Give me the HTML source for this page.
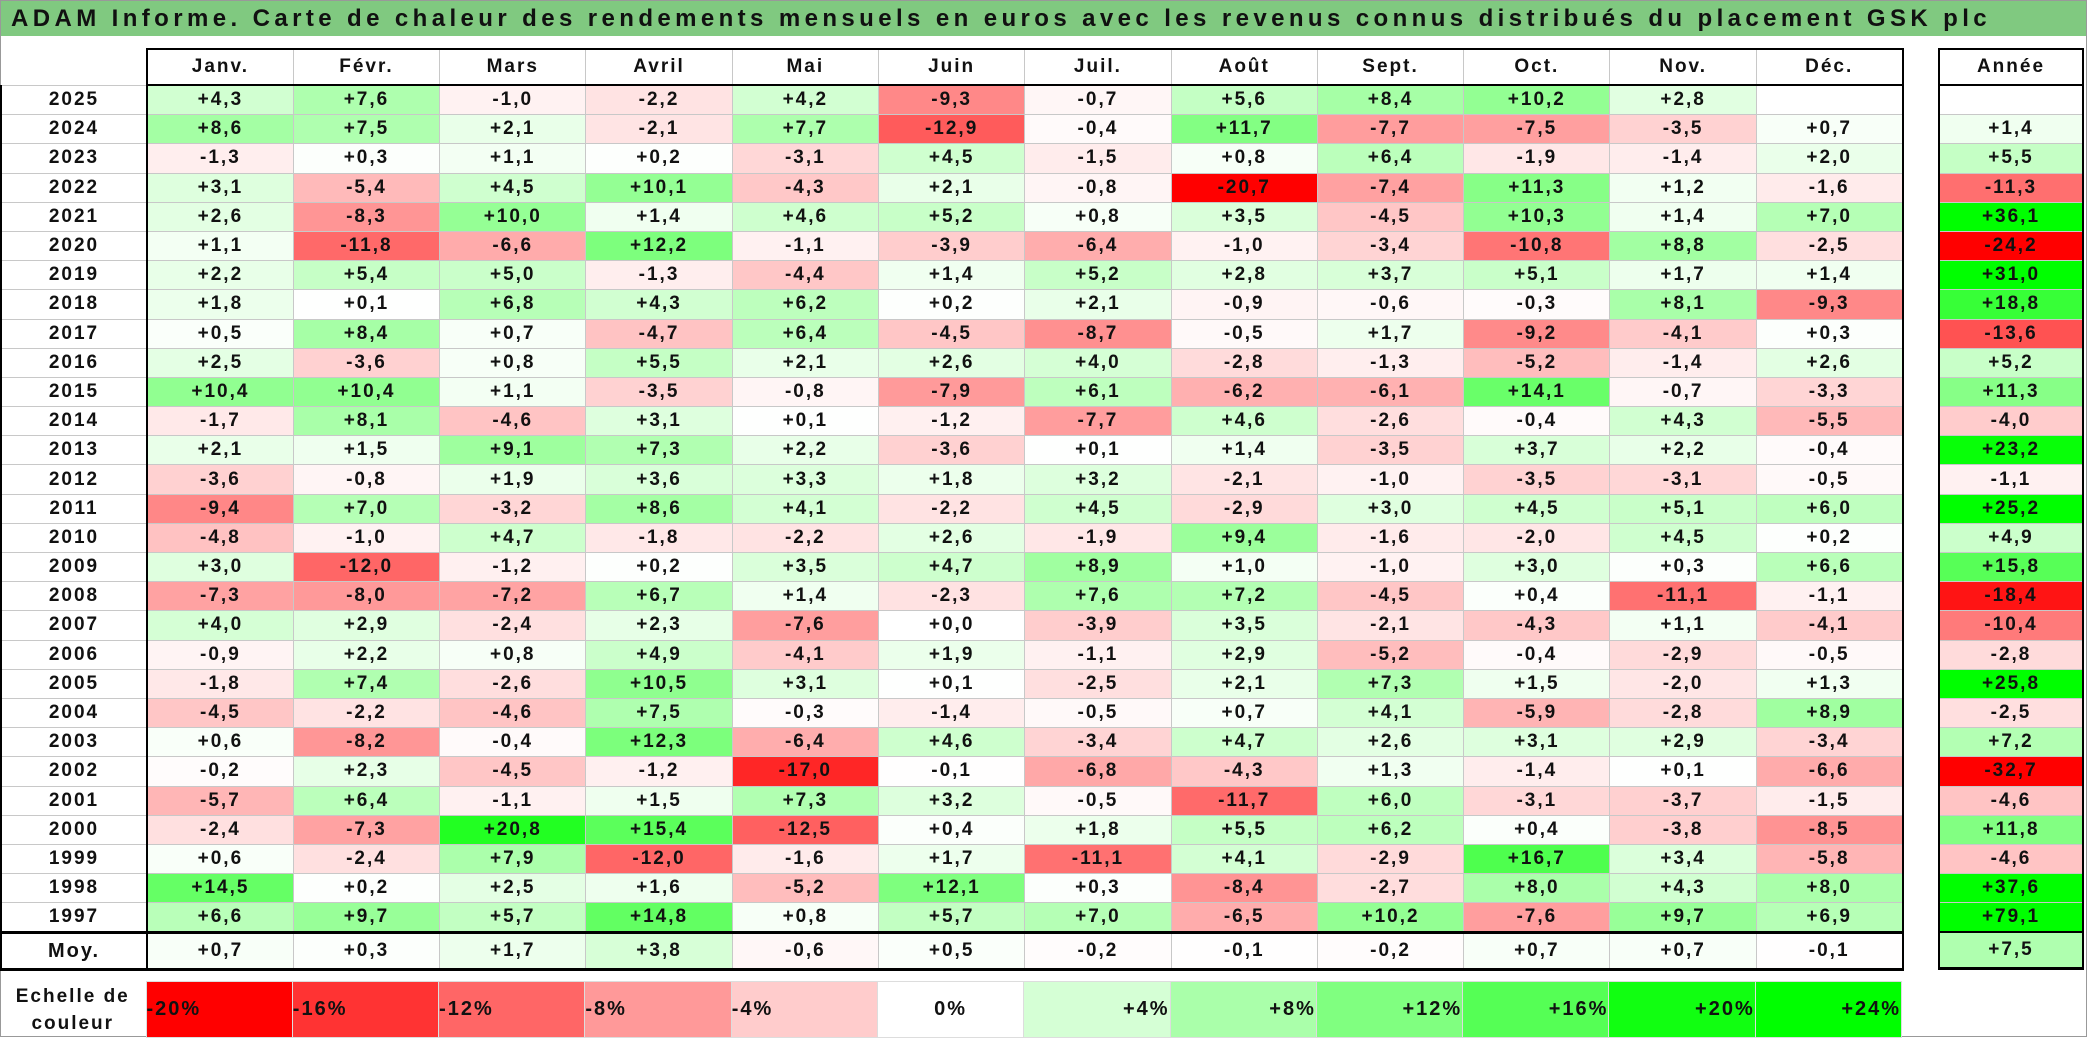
<!DOCTYPE html>
<html><head><meta charset="utf-8"><style>
body{margin:0;width:2087px;height:1037px;background:#fff;position:relative;overflow:hidden;font-family:"Liberation Sans",Arial,sans-serif;font-weight:bold;color:#111}
#frame{position:absolute;left:0;top:0;width:2085px;height:1035px;border:1px solid #999}
#title{position:absolute;left:1px;top:1px;width:2085px;height:35px;background:#80c980;font-size:24px;letter-spacing:4.4px;line-height:36px;padding-left:10px;box-sizing:border-box;white-space:nowrap;overflow:hidden}
table{border-collapse:collapse;table-layout:fixed;position:absolute;font-size:19px;letter-spacing:2px}
td{text-align:center;padding:0;border:1px solid #c8c8c8;overflow:hidden;white-space:nowrap}
#main{left:0;top:48px;width:1902px}
#main tr.r td{height:28.2px}
#main td.y{border-left:2px solid #000;border-right:2px solid #000}
#main tr.h td{height:34px;border-top:2px solid #000;border-bottom:2px solid #000}
#main tr.h td.blank{border:none;border-right:2px solid #000}
#main tr.h td:last-child,#main tr.r td:last-child,#main tr.m td:last-child{border-right:2px solid #000}
#main tr.m td{height:34px;border-top:3px solid #000;border-bottom:3px solid #000}
#main tr.m td.y{font-size:20px}
#yr{left:1938px;top:48px;width:146px}
#yr td{border-left:2px solid #000;border-right:2px solid #000}
#yr tr.h td{height:34px;border-top:2px solid #000;border-bottom:2px solid #000}
#yr tr.r td{height:28.2px}
#yr tr.m td{height:34px;border-top:2px solid #000;border-bottom:3px solid #000}
#leg{left:0;top:981px;width:1902px;font-size:20px}
#leg td{height:55px;border:1px solid #ddd}
#leg td.lab{border:none;font-size:19px;line-height:27px}
</style></head><body>
<div id="frame"></div>
<div id="title">ADAM Informe. Carte de chaleur des rendements mensuels en euros avec les revenus connus distribués du placement GSK plc</div>
<table id="main">
<colgroup><col style="width:146px"><col span="12" style="width:146.3px"></colgroup>
<tr class="h"><td class="blank"></td><td>Janv.</td><td>Févr.</td><td>Mars</td><td>Avril</td><td>Mai</td><td>Juin</td><td>Juil.</td><td>Août</td><td>Sept.</td><td>Oct.</td><td>Nov.</td><td>Déc.</td></tr>
<tr class="r"><td class="y">2025</td><td>+4,3</td><td>+7,6</td><td>-1,0</td><td>-2,2</td><td>+4,2</td><td>-9,3</td><td>-0,7</td><td>+5,6</td><td>+8,4</td><td>+10,2</td><td>+2,8</td><td></td></tr>
<tr class="r"><td class="y">2024</td><td>+8,6</td><td>+7,5</td><td>+2,1</td><td>-2,1</td><td>+7,7</td><td>-12,9</td><td>-0,4</td><td>+11,7</td><td>-7,7</td><td>-7,5</td><td>-3,5</td><td>+0,7</td></tr>
<tr class="r"><td class="y">2023</td><td>-1,3</td><td>+0,3</td><td>+1,1</td><td>+0,2</td><td>-3,1</td><td>+4,5</td><td>-1,5</td><td>+0,8</td><td>+6,4</td><td>-1,9</td><td>-1,4</td><td>+2,0</td></tr>
<tr class="r"><td class="y">2022</td><td>+3,1</td><td>-5,4</td><td>+4,5</td><td>+10,1</td><td>-4,3</td><td>+2,1</td><td>-0,8</td><td>-20,7</td><td>-7,4</td><td>+11,3</td><td>+1,2</td><td>-1,6</td></tr>
<tr class="r"><td class="y">2021</td><td>+2,6</td><td>-8,3</td><td>+10,0</td><td>+1,4</td><td>+4,6</td><td>+5,2</td><td>+0,8</td><td>+3,5</td><td>-4,5</td><td>+10,3</td><td>+1,4</td><td>+7,0</td></tr>
<tr class="r"><td class="y">2020</td><td>+1,1</td><td>-11,8</td><td>-6,6</td><td>+12,2</td><td>-1,1</td><td>-3,9</td><td>-6,4</td><td>-1,0</td><td>-3,4</td><td>-10,8</td><td>+8,8</td><td>-2,5</td></tr>
<tr class="r"><td class="y">2019</td><td>+2,2</td><td>+5,4</td><td>+5,0</td><td>-1,3</td><td>-4,4</td><td>+1,4</td><td>+5,2</td><td>+2,8</td><td>+3,7</td><td>+5,1</td><td>+1,7</td><td>+1,4</td></tr>
<tr class="r"><td class="y">2018</td><td>+1,8</td><td>+0,1</td><td>+6,8</td><td>+4,3</td><td>+6,2</td><td>+0,2</td><td>+2,1</td><td>-0,9</td><td>-0,6</td><td>-0,3</td><td>+8,1</td><td>-9,3</td></tr>
<tr class="r"><td class="y">2017</td><td>+0,5</td><td>+8,4</td><td>+0,7</td><td>-4,7</td><td>+6,4</td><td>-4,5</td><td>-8,7</td><td>-0,5</td><td>+1,7</td><td>-9,2</td><td>-4,1</td><td>+0,3</td></tr>
<tr class="r"><td class="y">2016</td><td>+2,5</td><td>-3,6</td><td>+0,8</td><td>+5,5</td><td>+2,1</td><td>+2,6</td><td>+4,0</td><td>-2,8</td><td>-1,3</td><td>-5,2</td><td>-1,4</td><td>+2,6</td></tr>
<tr class="r"><td class="y">2015</td><td>+10,4</td><td>+10,4</td><td>+1,1</td><td>-3,5</td><td>-0,8</td><td>-7,9</td><td>+6,1</td><td>-6,2</td><td>-6,1</td><td>+14,1</td><td>-0,7</td><td>-3,3</td></tr>
<tr class="r"><td class="y">2014</td><td>-1,7</td><td>+8,1</td><td>-4,6</td><td>+3,1</td><td>+0,1</td><td>-1,2</td><td>-7,7</td><td>+4,6</td><td>-2,6</td><td>-0,4</td><td>+4,3</td><td>-5,5</td></tr>
<tr class="r"><td class="y">2013</td><td>+2,1</td><td>+1,5</td><td>+9,1</td><td>+7,3</td><td>+2,2</td><td>-3,6</td><td>+0,1</td><td>+1,4</td><td>-3,5</td><td>+3,7</td><td>+2,2</td><td>-0,4</td></tr>
<tr class="r"><td class="y">2012</td><td>-3,6</td><td>-0,8</td><td>+1,9</td><td>+3,6</td><td>+3,3</td><td>+1,8</td><td>+3,2</td><td>-2,1</td><td>-1,0</td><td>-3,5</td><td>-3,1</td><td>-0,5</td></tr>
<tr class="r"><td class="y">2011</td><td>-9,4</td><td>+7,0</td><td>-3,2</td><td>+8,6</td><td>+4,1</td><td>-2,2</td><td>+4,5</td><td>-2,9</td><td>+3,0</td><td>+4,5</td><td>+5,1</td><td>+6,0</td></tr>
<tr class="r"><td class="y">2010</td><td>-4,8</td><td>-1,0</td><td>+4,7</td><td>-1,8</td><td>-2,2</td><td>+2,6</td><td>-1,9</td><td>+9,4</td><td>-1,6</td><td>-2,0</td><td>+4,5</td><td>+0,2</td></tr>
<tr class="r"><td class="y">2009</td><td>+3,0</td><td>-12,0</td><td>-1,2</td><td>+0,2</td><td>+3,5</td><td>+4,7</td><td>+8,9</td><td>+1,0</td><td>-1,0</td><td>+3,0</td><td>+0,3</td><td>+6,6</td></tr>
<tr class="r"><td class="y">2008</td><td>-7,3</td><td>-8,0</td><td>-7,2</td><td>+6,7</td><td>+1,4</td><td>-2,3</td><td>+7,6</td><td>+7,2</td><td>-4,5</td><td>+0,4</td><td>-11,1</td><td>-1,1</td></tr>
<tr class="r"><td class="y">2007</td><td>+4,0</td><td>+2,9</td><td>-2,4</td><td>+2,3</td><td>-7,6</td><td>+0,0</td><td>-3,9</td><td>+3,5</td><td>-2,1</td><td>-4,3</td><td>+1,1</td><td>-4,1</td></tr>
<tr class="r"><td class="y">2006</td><td>-0,9</td><td>+2,2</td><td>+0,8</td><td>+4,9</td><td>-4,1</td><td>+1,9</td><td>-1,1</td><td>+2,9</td><td>-5,2</td><td>-0,4</td><td>-2,9</td><td>-0,5</td></tr>
<tr class="r"><td class="y">2005</td><td>-1,8</td><td>+7,4</td><td>-2,6</td><td>+10,5</td><td>+3,1</td><td>+0,1</td><td>-2,5</td><td>+2,1</td><td>+7,3</td><td>+1,5</td><td>-2,0</td><td>+1,3</td></tr>
<tr class="r"><td class="y">2004</td><td>-4,5</td><td>-2,2</td><td>-4,6</td><td>+7,5</td><td>-0,3</td><td>-1,4</td><td>-0,5</td><td>+0,7</td><td>+4,1</td><td>-5,9</td><td>-2,8</td><td>+8,9</td></tr>
<tr class="r"><td class="y">2003</td><td>+0,6</td><td>-8,2</td><td>-0,4</td><td>+12,3</td><td>-6,4</td><td>+4,6</td><td>-3,4</td><td>+4,7</td><td>+2,6</td><td>+3,1</td><td>+2,9</td><td>-3,4</td></tr>
<tr class="r"><td class="y">2002</td><td>-0,2</td><td>+2,3</td><td>-4,5</td><td>-1,2</td><td>-17,0</td><td>-0,1</td><td>-6,8</td><td>-4,3</td><td>+1,3</td><td>-1,4</td><td>+0,1</td><td>-6,6</td></tr>
<tr class="r"><td class="y">2001</td><td>-5,7</td><td>+6,4</td><td>-1,1</td><td>+1,5</td><td>+7,3</td><td>+3,2</td><td>-0,5</td><td>-11,7</td><td>+6,0</td><td>-3,1</td><td>-3,7</td><td>-1,5</td></tr>
<tr class="r"><td class="y">2000</td><td>-2,4</td><td>-7,3</td><td>+20,8</td><td>+15,4</td><td>-12,5</td><td>+0,4</td><td>+1,8</td><td>+5,5</td><td>+6,2</td><td>+0,4</td><td>-3,8</td><td>-8,5</td></tr>
<tr class="r"><td class="y">1999</td><td>+0,6</td><td>-2,4</td><td>+7,9</td><td>-12,0</td><td>-1,6</td><td>+1,7</td><td>-11,1</td><td>+4,1</td><td>-2,9</td><td>+16,7</td><td>+3,4</td><td>-5,8</td></tr>
<tr class="r"><td class="y">1998</td><td>+14,5</td><td>+0,2</td><td>+2,5</td><td>+1,6</td><td>-5,2</td><td>+12,1</td><td>+0,3</td><td>-8,4</td><td>-2,7</td><td>+8,0</td><td>+4,3</td><td>+8,0</td></tr>
<tr class="r"><td class="y">1997</td><td>+6,6</td><td>+9,7</td><td>+5,7</td><td>+14,8</td><td>+0,8</td><td>+5,7</td><td>+7,0</td><td>-6,5</td><td>+10,2</td><td>-7,6</td><td>+9,7</td><td>+6,9</td></tr>
<tr class="m"><td class="y">Moy.</td><td>+0,7</td><td>+0,3</td><td>+1,7</td><td>+3,8</td><td>-0,6</td><td>+0,5</td><td>-0,2</td><td>-0,1</td><td>-0,2</td><td>+0,7</td><td>+0,7</td><td>-0,1</td></tr>
</table>
<table id="yr">
<tr class="h"><td>Année</td></tr>
<tr class="r"><td></td></tr>
<tr class="r"><td>+1,4</td></tr><tr class="r"><td>+5,5</td></tr><tr class="r"><td>-11,3</td></tr><tr class="r"><td>+36,1</td></tr><tr class="r"><td>-24,2</td></tr><tr class="r"><td>+31,0</td></tr><tr class="r"><td>+18,8</td></tr><tr class="r"><td>-13,6</td></tr><tr class="r"><td>+5,2</td></tr><tr class="r"><td>+11,3</td></tr><tr class="r"><td>-4,0</td></tr><tr class="r"><td>+23,2</td></tr><tr class="r"><td>-1,1</td></tr><tr class="r"><td>+25,2</td></tr><tr class="r"><td>+4,9</td></tr><tr class="r"><td>+15,8</td></tr><tr class="r"><td>-18,4</td></tr><tr class="r"><td>-10,4</td></tr><tr class="r"><td>-2,8</td></tr><tr class="r"><td>+25,8</td></tr><tr class="r"><td>-2,5</td></tr><tr class="r"><td>+7,2</td></tr><tr class="r"><td>-32,7</td></tr><tr class="r"><td>-4,6</td></tr><tr class="r"><td>+11,8</td></tr><tr class="r"><td>-4,6</td></tr><tr class="r"><td>+37,6</td></tr><tr class="r"><td>+79,1</td></tr>
<tr class="m"><td>+7,5</td></tr>
</table>
<table id="leg">
<colgroup><col style="width:146px"><col span="12" style="width:146.3px"></colgroup>
<tr><td class="lab">Echelle de<br>couleur</td>
<td style="background:#ff0000;text-align:left">-20%</td>
<td style="background:#ff3333;text-align:left">-16%</td>
<td style="background:#ff6666;text-align:left">-12%</td>
<td style="background:#ff9999;text-align:left">-8%</td>
<td style="background:#ffcccc;text-align:left">-4%</td>
<td style="background:#ffffff">0%</td>
<td style="background:#d5ffd5;text-align:right">+4%</td>
<td style="background:#aaffaa;text-align:right">+8%</td>
<td style="background:#80ff80;text-align:right">+12%</td>
<td style="background:#55ff55;text-align:right">+16%</td>
<td style="background:#11ff11;text-align:right">+20%</td>
<td style="background:#00ff00;text-align:right">+24%</td></tr>
</table>
<script>
function col(v){
  if(v<0){var t=Math.min(-v/20,1);var c=Math.round(255*(1-t));return "rgb(255,"+c+","+c+")";}
  var t=Math.min(v/24,1);var c=Math.round(255*(1-t));return "rgb("+c+",255,"+c+")";
}
document.querySelectorAll("#main tr.r td:not(.y), #main tr.m td:not(.y), #yr tr.r td, #yr tr.m td").forEach(function(td){
  var s=td.textContent.trim(); if(!s) return;
  var v=parseFloat(s.replace(",", ".")); if(isNaN(v)) return;
  td.style.background=col(v);
});
</script>
</body></html>
